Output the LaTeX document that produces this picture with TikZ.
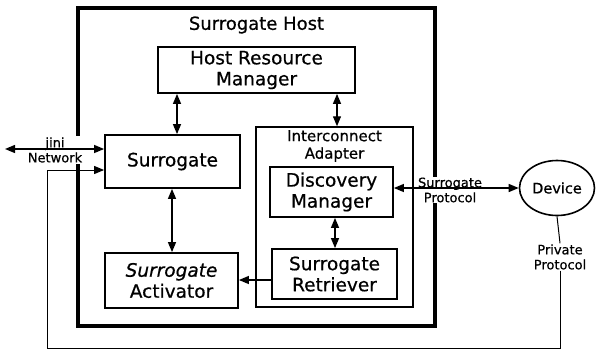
\documentclass[tikz,border=0pt]{standalone}
\usepackage{fontspec}
\setmainfont[FakeBold=0.6]{DejaVu Sans}
\usetikzlibrary{arrows.meta,shapes.geometric}
\tikzset{
  box/.style={draw,line width=1.8pt,rectangle,inner sep=0pt,align=center,font=\fontsize{18.5}{21}\selectfont},
  bi/.style={line width=1.3pt,{Triangle[length=10pt,width=8pt]}-{Triangle[length=10pt,width=8pt]}},
  uni/.style={line width=1.3pt,-{Triangle[length=10pt,width=8pt]}},
  thinarrow/.style={line width=1pt,-{Triangle[length=10pt,width=8pt]}},
  lbl/.style={fill=white,inner sep=1pt,align=center,font=\fontsize{13}{15}\selectfont},
}
\begin{document}
\begin{tikzpicture}[x=1pt,y=-1pt]
\useasboundingbox (0,0) rectangle (602,354);
% outer host
\node[draw,line width=3.2pt,minimum width=357pt,minimum height=318pt,inner sep=0pt] (host) at (256.5,167) {};
\node[font=\fontsize{18}{20}\selectfont] (title) at (256.5,25) {Surrogate Host};
% boxes
\node[box,minimum width=197pt,minimum height=46pt] (hrm) at (256.5,70) {Host Resource\\Manager};
\node[box,minimum width=135pt,minimum height=53pt] (sur) at (172.5,161.5) {Surrogate};
\node[draw,line width=1.5pt,minimum width=157pt,minimum height=180pt,inner sep=0pt] (ia) at (334.5,217) {};
\node[font=\fontsize{15}{17.5}\selectfont,align=center] (ialbl) at (334.5,146) {Interconnect\\Adapter};
\node[box,minimum width=123pt,minimum height=50pt] (dm) at (331.5,192) {Discovery\\Manager};
\node[box,minimum width=125pt,minimum height=50pt] (sr) at (334.5,274) {Surrogate\\Retriever};
\node[box,minimum width=133pt,minimum height=55pt] (sa) at (171.5,280.5) {\textit{Surrogate}\\Activator};
\node[draw,ellipse,line width=1.6pt,minimum width=75pt,minimum height=55pt,inner sep=0pt,font=\fontsize{14.5}{17}\selectfont] (dev) at (557,188) {Device};
% labels
\node[lbl] (jini) at (55,150) {jini\\Network};
\node[lbl] (sp) at (450,190) {Surrogate\\Protocol};
\node[lbl] (pp) at (560,257) {Private\\Protocol};
% helper coordinates
\coordinate (x177) at (177,0);
\coordinate (x337) at (337,0);
\coordinate (x172) at (172,0);
\coordinate (x335) at (335,0);
\coordinate (y280) at (0,280);
\coordinate (y170) at (0,170);
\coordinate (jl) at (5,149);
\coordinate (lb) at (47,348);
% connectors
\draw[bi] (hrm.south -| x177) -- (sur.north -| x177);
\draw[bi] (hrm.south -| x337) -- (ia.north -| x337);
\draw[bi] (sur.south -| x172) -- (sa.north -| x172);
\draw[bi] (dm.south -| x335) -- (sr.north -| x335);
\draw[uni] (sr.west |- y280) -- (sa.east |- y280);
\draw[bi] (dev.west) -- (dev.west -| dm.east);
\draw[bi] (jl) -- (jl -| sur.west);
\draw[line width=1pt] (dev.south) -- (pp.north);
\draw[thinarrow] (pp.south) -- (pp.south |- lb) -- (lb) -- (lb |- y170) -- (sur.west |- y170);
\end{tikzpicture}
\end{document}
